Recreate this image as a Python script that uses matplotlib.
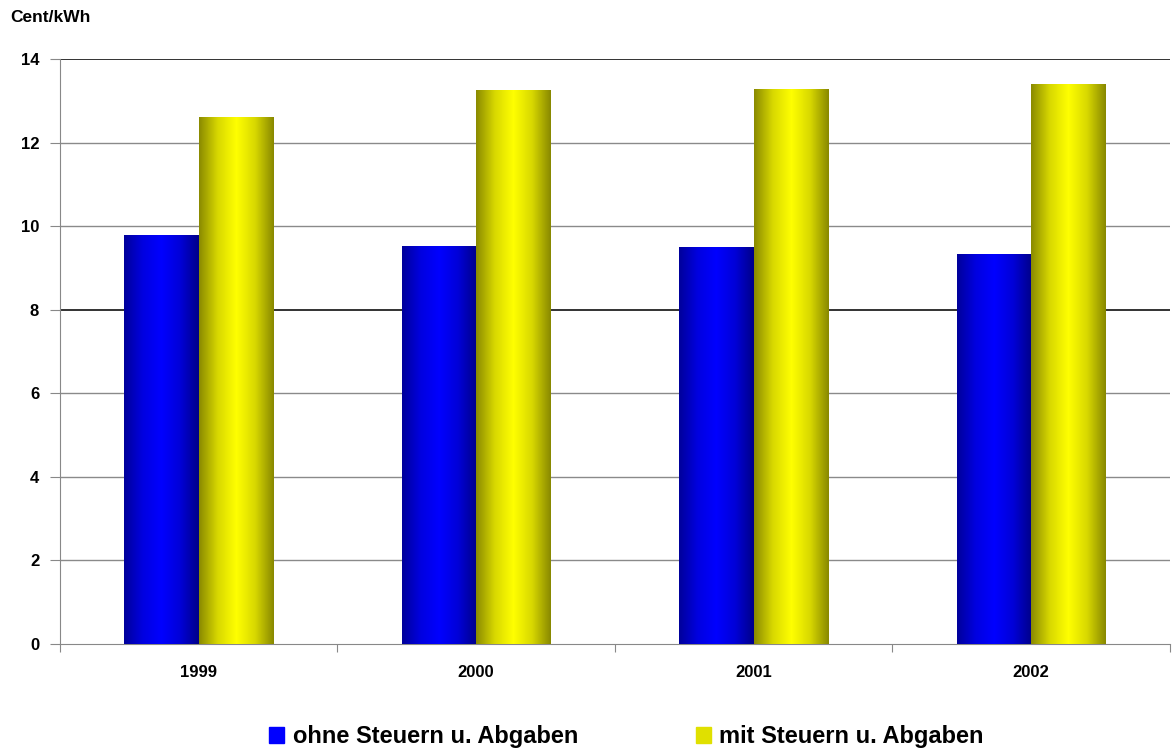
import numpy as np
import matplotlib.pyplot as plt
from matplotlib.colors import LinearSegmentedColormap
from matplotlib.patches import Rectangle

plt.rcParams['font.family'] = ['Liberation Sans', 'DejaVu Sans']
plt.rcParams['font.weight'] = 'bold'

# Strompreise in Cent/kWh
jahre = ['1999', '2000', '2001', '2002']
ohne_steuern = [9.78, 9.53, 9.50, 9.33]
mit_steuern = [12.62, 13.25, 13.28, 13.40]
serien = ['ohne Steuern u. Abgaben', 'mit Steuern u. Abgaben']

blau = LinearSegmentedColormap.from_list(
    'blau', ['#00009a', '#0000e0', '#0000ff', '#0000d8', '#000088'])
gelb = LinearSegmentedColormap.from_list(
    'gelb', ['#8a8a00', '#d8d800', '#ffff00', '#d8d800', '#888800'])

fig = plt.figure(figsize=(11.72, 7.51), dpi=100)
ax = fig.add_axes([0.0512, 0.1425, 0.9468, 0.7789])

x = np.arange(len(jahre)) + 0.5
breite = 0.268
gradient = np.linspace(0, 1, 256).reshape(1, -1)

for werte, cmap, offset in [(ohne_steuern, blau, -breite / 2),
                            (mit_steuern, gelb, breite / 2)]:
    bars = ax.bar(x + offset, werte, breite, color='none', edgecolor='none', zorder=3)
    for b in bars:
        x0, y0 = b.get_x(), b.get_y()
        w, h = b.get_width(), b.get_height()
        im = ax.imshow(gradient, extent=[x0, x0 + w, y0, y0 + h], aspect='auto',
                       cmap=cmap, zorder=3, interpolation='bilinear')
        im.set_clip_path(b)

ax.set_xlim(0, len(jahre))
ax.set_ylim(0, 14)

# Gitternetz
ax.set_yticks(np.arange(0, 15, 2))
for yv in np.arange(2, 15, 2):
    dunkel = yv in (8, 14)
    ax.axhline(yv, color='#222222' if dunkel else '#8a8a8a',
               lw=1.3 if dunkel else 1.0, zorder=1)

for s in ['top', 'right']:
    ax.spines[s].set_visible(False)
ax.spines['left'].set_color('#888888')
ax.spines['bottom'].set_color('#888888')

ax.set_xticks(np.arange(0, len(jahre) + 1))
ax.set_xticklabels([])
ax.set_xticks(x, minor=True)
ax.set_xticklabels(jahre, minor=True)
ax.tick_params(axis='x', which='major', length=6, color='#888888', direction='out')
ax.tick_params(axis='x', which='minor', length=0, pad=15, labelsize=12)
ax.tick_params(axis='y', length=7, color='#888888', pad=8, labelsize=12)

fig.text(0.009, 0.977, 'Cent/kWh', fontsize=12.5, fontweight='bold', va='center')

handles = [Rectangle((0, 0), 1, 1, color='#0000ff'),
           Rectangle((0, 0), 1, 1, color='#e0e000')]
fig.legend(handles, serien, loc='center', bbox_to_anchor=(0.5346, 0.019),
           ncol=2, frameon=False, handlelength=0.64,
           handleheight=0.64, handletextpad=0.35, columnspacing=5.0,
           prop={'weight': 'bold', 'size': 17})

fig.savefig('out.png', dpi=100)
